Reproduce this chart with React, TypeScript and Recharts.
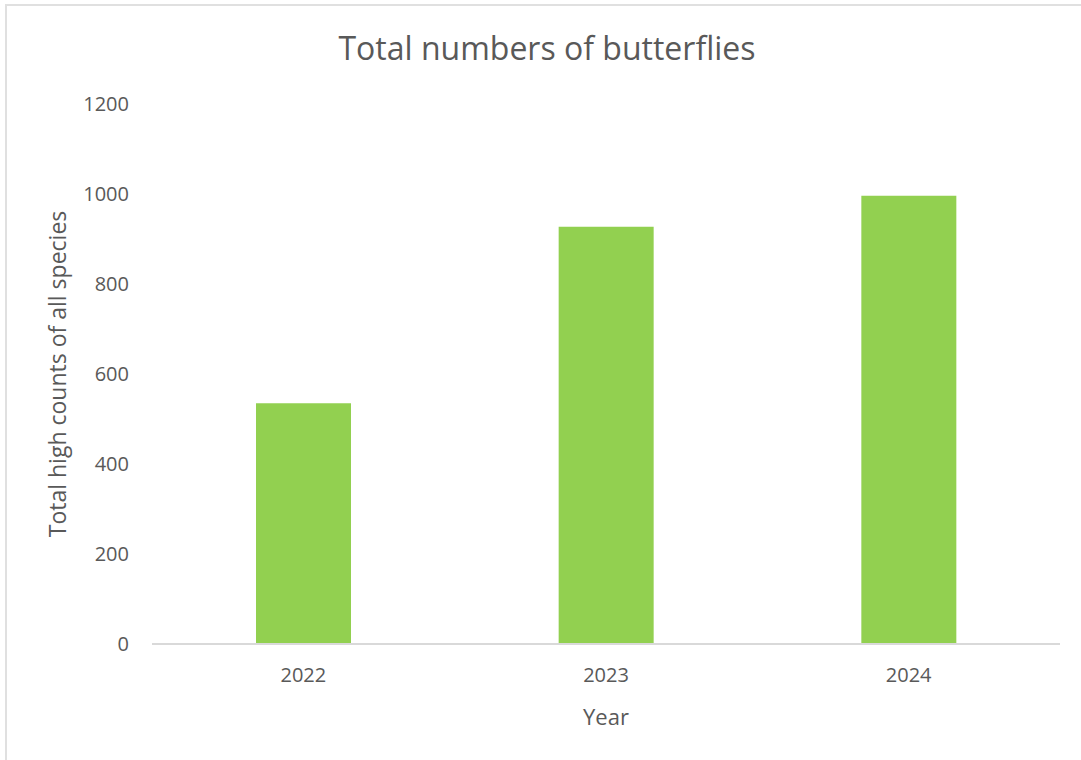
import React from 'react';
import { BarChart, Bar, XAxis, YAxis } from 'recharts';

const years = ['2022', '2023', '2024'];
const totalCounts = [535, 927, 996];
const yTicks = [0, 200, 400, 600, 800, 1000, 1200];

const data = years.map((year, i) => ({ year, total: totalCounts[i] }));

const font = '"Open Sans", sans-serif';
const textColor = '#595959';

const App: React.FC = () => {
  return (
    <div
      style={{
        position: 'absolute',
        left: 0,
        top: 0,
        width: 1081,
        height: 760,
        background: '#fff',
        fontFamily: font,
      }}
    >
      {/* chart frame, only top and left edges show in the crop */}
      <div
        style={{
          position: 'absolute',
          left: 5,
          top: 4,
          right: 0,
          bottom: 0,
          borderTop: '2px solid #e0e0e0',
          borderLeft: '2px solid #e0e0e0',
        }}
      />
      <BarChart
        width={1081}
        height={760}
        data={data}
        margin={{ top: 104, right: 21, bottom: 0, left: 0 }}
        style={{ position: 'absolute', left: 0, top: 0 }}
      >
        <XAxis
          dataKey="year"
          height={116}
          axisLine={{ stroke: '#d9d9d9', strokeWidth: 2 }}
          tickLine={false}
          tickSize={0}
          tickMargin={24}
          tick={{ fill: textColor, fontSize: 20, fontFamily: font }}
          label={{
            value: 'Year',
            position: 'insideBottom',
            offset: 35,
            fill: textColor,
            fontSize: 22,
            fontFamily: font,
          }}
        />
        <YAxis
          width={152}
          domain={[0, 1200]}
          ticks={yTicks}
          axisLine={false}
          tickLine={false}
          tickSize={0}
          tickMargin={23}
          tick={{ fill: textColor, fontSize: 20, fontFamily: font }}
          label={{
            value: 'Total high counts of all species',
            angle: -90,
            position: 'center',
            dx: -18,
            fill: textColor,
            fontSize: 23,
            fontFamily: font,
          }}
        />
        <Bar dataKey="total" fill="#92d050" barSize={95} isAnimationActive={false} />
      </BarChart>
      <svg
        width={1081}
        height={80}
        style={{ position: 'absolute', left: 0, top: 0, pointerEvents: 'none' }}
      >
        <text
          x={547}
          y={60}
          textAnchor="middle"
          fill={textColor}
          fontSize={32}
          fontFamily={font}
        >
          Total numbers of butterflies
        </text>
      </svg>
    </div>
  );
};

export default App;
